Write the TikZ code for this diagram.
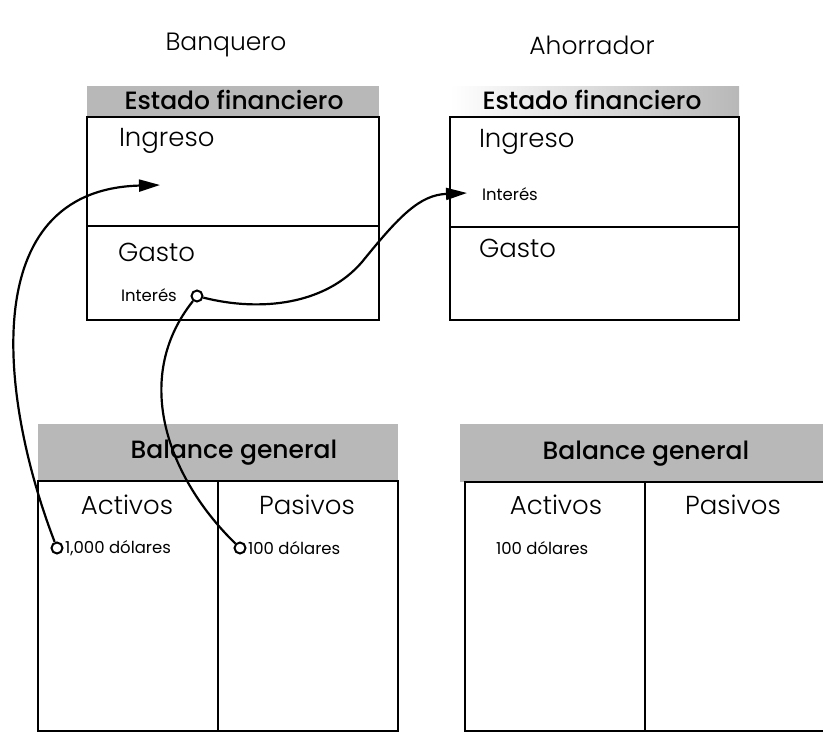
\documentclass[tikz,border=0pt]{standalone}
\usepackage{fontspec}
\setmainfont{Poppins}
\newfontfamily\lightfont{Poppins Light}
\newfontfamily\medfont{Poppins Medium}
\usetikzlibrary{arrows.meta}

\begin{document}
\begin{tikzpicture}[x=1pt,y=-1pt,line width=2pt]
                \tikzstyle{band}=[fill=black!28,draw=none]
                \tikzstyle{title}=[font=\lightfont\fontsize{25}{28}\selectfont]
                \tikzstyle{head}=[font=\medfont\fontsize{25}{28}\selectfont]
                \tikzstyle{item}=[font=\lightfont\fontsize{26}{30}\selectfont,inner sep=0pt]
                \tikzstyle{small}=[font=\fontsize{16.5}{18}\selectfont,inner sep=0pt]
                \tikzstyle{dot}=[circle,draw=black,fill=white,line width=2pt,minimum size=11pt,inner sep=0pt]
                \tikzstyle{flow}=[line width=2.2pt,-{Triangle[length=21pt,width=12pt]}]
                \useasboundingbox (0,0) rectangle (823,734);

                % estados financieros
                \fill[band] (87,86) rectangle (379,117);
                \shade[left color=white,right color=black!28] (450,86) rectangle (739,117);
                \draw (87,117) rectangle (379,320);
                \draw (87,226) -- (379,226);
                \draw (450,117) rectangle (739,320);
                \draw (450,227) -- (739,227);

                % balances generales
                \fill[band] (38,424) rectangle (398,481);
                \fill[band] (460,424) rectangle (823,482);
                \draw (38,481) rectangle (398,731);
                \draw (218,481) -- (218,731);
                \draw (465,482) rectangle (830,731);
                \draw (645,482) -- (645,731);

                \node[title] (banq) at (226,45) {Banquero};
                \node[title] (ahor) at (592,45) {Ahorrador};
                \node[head] (ef-1) at (234,100) {Estado financiero};
                \node[head] (ef-2) at (592,100) {Estado financiero};
                \node[head] (bg-1) at (234,453) {Balance general};
                \node[head] (bg-2) at (646,454) {Balance general};

                \foreach \num/\x/\y in {1/118/141, 2/478/142}
                        \node[item,anchor=west] (ing-\num) at (\x,\y) {Ingreso};
                \foreach \num/\x/\y in {1/117/252, 2/478/248}
                        \node[item,anchor=west] (gas-\num) at (\x,\y) {Gasto};
                \foreach \num/\x in {1/127, 2/556}
                        \node[item] (act-\num) at (\x,505) {Activos};
                \foreach \num/\x in {1/307, 2/733}
                        \node[item] (pas-\num) at (\x,505) {Pasivos};

                \node[small,anchor=west] (int-1) at (120,295) {Interés};
                \node[small,anchor=west] (int-2) at (481,194) {Interés};
                \node[dot] (d-int) at (197,296) {};
                \node[dot] (d-act) at (57,548) {};
                \node[dot] (d-pas) at (240,548) {};
                \node[small,anchor=west] (mil) at (64,548) {1,000 dólares};
                \node[small,anchor=west] (cien-1) at (247,548) {100 dólares};
                \node[small,anchor=west] (cien-2) at (495,548) {100 dólares};

                \coordinate (tip-1) at (160,185);
                \coordinate (tip-2) at (467,193);

                \draw[flow] (d-act) .. controls (0,400) and (-25,190) .. (tip-1);
                \draw[line width=2.2pt] (d-pas) .. controls (170,480) and (130,380) .. (d-int);
                \draw[flow] (d-int) .. controls (260,312) and (325,305) .. (362,262)
                        .. controls (400,215) and (420,195) .. (tip-2);
            \end{tikzpicture}
\end{document}
